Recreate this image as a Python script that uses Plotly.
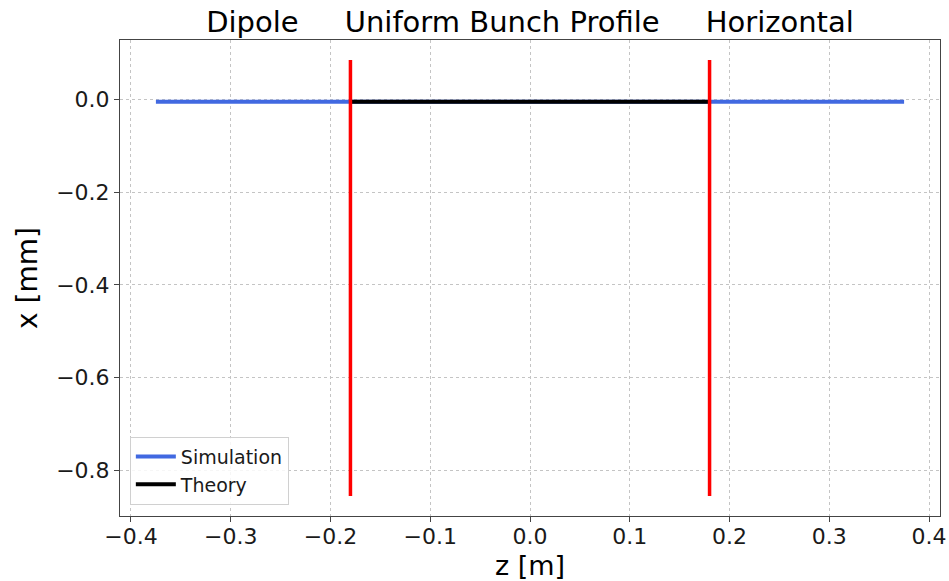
import plotly.graph_objects as go

# Wakefield kick along the bunch
sim_z = [-0.375, -0.18, 0.0, 0.18, 0.375]
sim_x = [-0.005, -0.005, -0.005, -0.005, -0.005]
theory_z = [-0.18, 0.0, 0.18]
theory_x = [-0.005, -0.005, -0.005]

# Bunch edges
edge_z = [-0.18, 0.18]
edge_x_range = [0.085, -0.855]

x_ticks = [-0.4, -0.3, -0.2, -0.1, 0.0, 0.1, 0.2, 0.3, 0.4]
y_ticks = [-0.8, -0.6, -0.4, -0.2, 0.0]

FONT = "DejaVu Sans"
sp = "\u00a0" * 5
title_text = f"Dipole{sp}Uniform Bunch Profile{sp}Horizontal"

fig = go.Figure()
fig.add_trace(go.Scatter(x=sim_z, y=sim_x, mode="lines", name="Simulation",
                         line=dict(color="#4169E1", width=4)))
fig.add_trace(go.Scatter(x=theory_z, y=theory_x, mode="lines", name="Theory",
                         line=dict(color="black", width=4)))
for z in edge_z:
    fig.add_trace(go.Scatter(x=[z, z], y=edge_x_range, mode="lines", showlegend=False,
                             line=dict(color="#FF0000", width=3.5)))

axis_common = dict(
    showline=True, linecolor="#444444", linewidth=1, mirror=True,
    ticks="outside", ticklen=5, tickcolor="#444444", tickwidth=1,
    showgrid=True, gridcolor="#c4c4c4", griddash="3px,3px", gridwidth=1,
    zeroline=False, automargin=False,
    tickfont=dict(family=FONT, size=22, color="#1a1a1a"),
)

fig.update_layout(
    width=949, height=581,
    margin=dict(l=120, r=9, t=40, b=65),
    paper_bgcolor="white", plot_bgcolor="white",
    title=dict(text=title_text, x=0.5, xanchor="center", xref="paper",
               y=1 - 22 / 581, yref="container", yanchor="middle",
               font=dict(family=FONT, size=29, color="black")),
    xaxis=dict(range=[-0.411, 0.411], tickvals=x_ticks,
               ticktext=[f"{v:.1f}".replace("-", "\u2212") for v in x_ticks],
               ticklabelstandoff=-4,
               title=dict(text="z [m]", font=dict(family=FONT, size=27, color="black"), standoff=10),
               **axis_common),
    yaxis=dict(range=[-0.898, 0.128], tickvals=y_ticks,
               ticktext=[f"{v:.1f}".replace("-", "\u2212") for v in y_ticks],
               title=dict(text="x [mm]", font=dict(family=FONT, size=28, color="black"), standoff=10),
               **axis_common),
    legend=dict(x=0.012, y=0.024, xanchor="left", yanchor="bottom",
                bgcolor="rgba(255,255,255,0.85)", bordercolor="#d0d0d0", borderwidth=1,
                font=dict(family=FONT, size=19, color="#1a1a1a"),
                itemwidth=40, tracegroupgap=0),
    showlegend=True,
)

fig.write_html("out.html")
